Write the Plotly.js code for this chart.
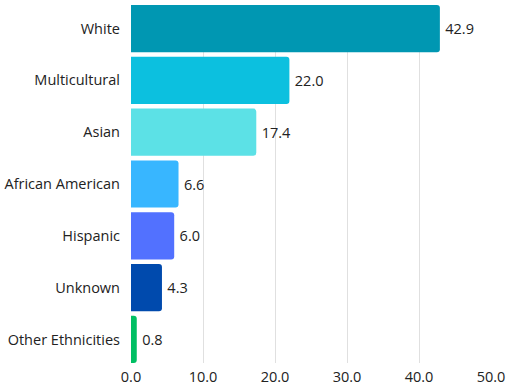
<!DOCTYPE html>
<html>
<head>
<meta charset="utf-8">
<script src="https://cdn.plot.ly/plotly-3.0.1.min.js"></script>
<style>html,body{margin:0;padding:0;background:#fff;}#chart{width:512px;height:392px;}</style>
</head>
<body>
<div id="chart"></div>
<script>
const categories = ["White", "Multicultural", "Asian", "African American", "Hispanic", "Unknown", "Other Ethnicities"];
const values = [42.9, 22.0, 17.4, 6.6, 6.0, 4.3, 0.8];
const colors = ["#0097B2", "#0CC0DF", "#5CE1E6", "#38B6FF", "#5271FF", "#004AAD", "#00BF63"];
const xTicks = [0, 10, 20, 30, 40, 50];
const xTickLabels = ["0.0", "10.0", "20.0", "30.0", "40.0", "50.0"];

const gap = 0.09;
const fontFam = "Open Sans, sans-serif";
const fs = 14.5;

Plotly.newPlot("chart", [{
  type: "bar",
  orientation: "h",
  y: categories,
  x: values,
  text: values.map(v => "\u2009" + v.toFixed(1)),
  textposition: "outside",
  cliponaxis: false,
  textfont: {family: fontFam, size: fs, color: "#222"},
  marker: {color: colors, cornerradius: 3, line: {width: 0}},
  hoverinfo: "none"
}], {
  width: 512, height: 392,
  margin: {l: 131, r: 21, t: 5, b: 29, pad: 0},
  paper_bgcolor: "#fff", plot_bgcolor: "#fff",
  bargap: gap,
  showlegend: false,
  font: {family: fontFam, size: fs, color: "#222"},
  xaxis: {
    range: [0, 50],
    tickvals: xTicks,
    ticktext: xTickLabels,
    showgrid: true,
    gridcolor: "#e0e0e0",
    gridwidth: 1,
    zeroline: false,
    showline: false,
    ticks: "",
    ticklabelstandoff: 3,
    tickfont: {family: fontFam, size: fs, color: "#222"},
    fixedrange: true
  },
  yaxis: {
    type: "category",
    categoryorder: "array",
    categoryarray: categories,
    range: [6.5 - gap / 2, -0.5 + gap / 2],
    showgrid: false,
    zeroline: false,
    showline: false,
    ticks: "",
    ticklabelstandoff: 10,
    tickfont: {family: fontFam, size: fs, color: "#222"},
    fixedrange: true
  }
}, {displayModeBar: false, staticPlot: true});
</script>
</body>
</html>
